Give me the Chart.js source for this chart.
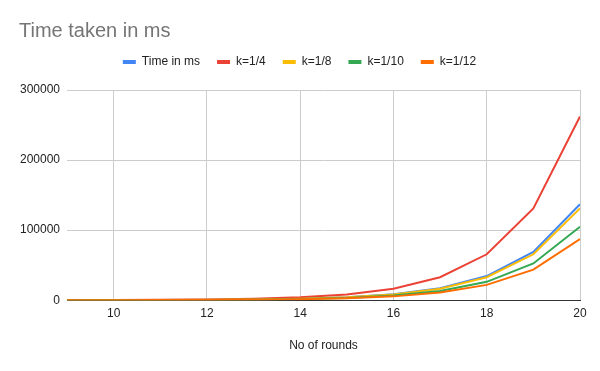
<!DOCTYPE html>
<html>
<head>
<meta charset="utf-8">
<script src="https://cdn.jsdelivr.net/npm/chart.js@4/dist/chart.umd.min.js"></script>
<style>
  body { margin: 0; background: #fff; }
  #wrap { width: 600px; height: 371px; }
</style>
</head>
<body>
<div id="wrap"><canvas id="timeChart"></canvas></div>
<script>
// values
const rounds = [9, 10, 11, 12, 13, 14, 15, 16, 17, 18, 19, 20];
const timeMs = [68, 135, 270, 540, 1080, 2150, 4300, 8600, 17200, 34500, 69000, 137000];
const k4 = [128, 256, 512, 1024, 2048, 4096, 8192, 16384, 32768, 65536, 131072, 262144];
const k8 = [64, 128, 256, 512, 1024, 2048, 4096, 8192, 16384, 32768, 65536, 131072];
const k10 = [51, 102, 205, 410, 819, 1638, 3277, 6554, 13107, 26214, 52429, 104858];
const k12 = [43, 85, 171, 341, 683, 1365, 2731, 5461, 10923, 21845, 43691, 87381];

const seriesNames = ['Time in ms', 'k=1/4', 'k=1/8', 'k=1/10', 'k=1/12'];
const seriesColors = ['#4285F4', '#EA4335', '#FBBC04', '#34A853', '#FF6D01'];
const xTicks = [10, 12, 14, 16, 18, 20];
const yTicks = [0, 100000, 200000, 300000];

const allSeries = [timeMs, k4, k8, k10, k12];

Chart.defaults.font.family = '"Liberation Sans", Arial, sans-serif';
Chart.defaults.color = '#222';

const datasets = allSeries.map((vals, i) => ({
    label: seriesNames[i],
    data: rounds.map((r, j) => ({ x: r, y: vals[j] })),
    borderColor: seriesColors[i],
    backgroundColor: seriesColors[i],
    borderWidth: 2,
    pointRadius: 0,
    tension: 0,
    order: allSeries.length - 1 - i   // later series drawn on top
}));

// push the plot area down a little below the legend
const legendGap = {
    id: 'legendGap',
    beforeInit(chart) {
        const fit = chart.legend.fit;
        chart.legend.fit = function() {
            fit.bind(chart.legend)();
            this.height += 12;
        };
    }
};

const config = {
    type: 'line',
    data: { datasets: datasets },
    options: {
        responsive: true,
        maintainAspectRatio: false,
        animation: false,
        layout: { padding: { top: 0, left: 19, right: 20, bottom: 18 } },
        plugins: {
            title: {
                display: true,
                text: 'Time taken in ms',
                align: 'start',
                color: '#757575',
                font: { size: 20, weight: 'normal', lineHeight: 0.8 },
                padding: { top: 23, bottom: 0 }
            },
            legend: {
                position: 'top',
                labels: {
                    boxWidth: 13,
                    boxHeight: 4,
                    padding: 17,
                    font: { size: 12 },
                    color: '#222',
                    sort: (a, b) => a.datasetIndex - b.datasetIndex,
                    generateLabels(chart) {
                        const items = Chart.defaults.plugins.legend.labels.generateLabels(chart);
                        items.forEach(it => { it.lineWidth = 0; });
                        return items;
                    }
                }
            },
            tooltip: { enabled: false }
        },
        scales: {
            x: {
                type: 'linear',
                min: 9,
                max: 20,
                afterBuildTicks: scale => { scale.ticks = xTicks.map(v => ({ value: v })); },
                ticks: { font: { size: 12 }, color: '#222', padding: 6, maxRotation: 0 },
                grid: { color: '#ccc', drawTicks: false },
                border: { color: '#333', width: 1 },
                title: {
                    display: true,
                    text: 'No of rounds',
                    color: '#222',
                    font: { size: 12 },
                    padding: { top: 12, bottom: 0 }
                }
            },
            y: {
                min: 0,
                max: 300000,
                afterBuildTicks: scale => { scale.ticks = yTicks.map(v => ({ value: v })); },
                afterFit: scale => { scale.width = 48; },
                ticks: { font: { size: 12 }, color: '#222', padding: 7, callback: v => String(v) },
                grid: { color: '#ccc', drawTicks: false },
                border: { display: false }
            }
        }
    },
    plugins: [legendGap]
};

window.onload = function() {
    const ctx = document.getElementById('timeChart').getContext('2d');
    new Chart(ctx, config);
};
</script>
</body>
</html>
